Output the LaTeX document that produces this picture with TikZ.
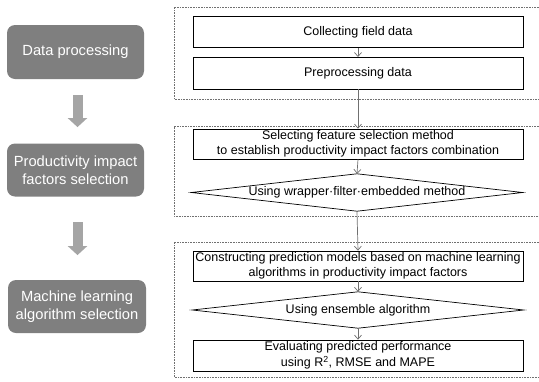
\documentclass[tikz,border=0pt]{standalone}
\usepackage{fontspec}
\setmainfont{Liberation Sans}
\usetikzlibrary{arrows.meta,calc}
\definecolor{boxgray}{HTML}{7F7F7F}
\definecolor{arrgray}{HTML}{A5A5A5}
\definecolor{linegray}{HTML}{707070}
\begin{document}
\begin{tikzpicture}[x=1pt,y=-1pt,
  stage/.style={rectangle, rounded corners=8pt, fill=boxgray, text=white, align=center,
    font=\fontsize{14.7}{18}\selectfont, inner sep=0pt},
  procbox/.style={rectangle, draw=black, line width=0.7pt, align=center,
    minimum width=330pt, inner sep=0pt, font=\fontsize{12.5}{15.5}\selectfont},
  decbox/.style={rectangle, minimum width=331pt, inner sep=0pt,
    font=\fontsize{12.5}{15.5}\selectfont},
  frame/.style={draw=linegray, densely dotted, line width=0.6pt},
  flow/.style={draw=linegray, line width=0.7pt, -{Straight Barb[length=4pt,width=7pt]}},
  bigarrow/.style={draw=arrgray, line width=10pt, -{Triangle[length=9pt,width=19pt]}, shorten >=-0.1pt}
]
\useasboundingbox (0,0) rectangle (539,381);
% dotted frames (open on the right)
\draw[frame] (539,7) -- (174,7) -- (174,99) -- (539,99);
\draw[frame] (539,126.5) -- (174,126.5) -- (174,216) -- (539,216);
\draw[frame] (539,242) -- (174,242) -- (174,377) -- (539,377);
% left stages
\node[stage, minimum width=137pt, minimum height=54pt] (dp) at (75.5,52) {Data processing};
\node[stage, minimum width=137pt, minimum height=53pt] (pif) at (75.5,170) {Productivity impact\\factors selection};
\node[stage, minimum width=138pt, minimum height=53pt] (mls) at (77,306.5) {Machine learning\\algorithm selection};
% big arrows
\coordinate (a1s) at (77.5,95);
\coordinate (a1e) at (77.5,127);
\coordinate (a2s) at (77.5,222);
\coordinate (a2e) at (77.5,255);
\draw[bigarrow] (a1s) -- (a1e);
\draw[bigarrow] (a2s) -- (a2e);
% right flow
\node[procbox, minimum height=31pt] (collect) at (358,32.2) {Collecting field data};
\node[procbox, minimum height=31.7pt] (prep) at (358,73.2) {Preprocessing data};
\node[procbox, minimum height=30pt] (select) at (358,144) {Selecting feature selection method\\to establish productivity impact factors combination};
\node[decbox, minimum height=37pt] (wrap) at (357,192.5) {Using wrapper·filter·embedded method};
\draw[line width=0.7pt] (wrap.west) -- (wrap.north) -- (wrap.east) -- (wrap.south) -- cycle;
\node[procbox, minimum height=30pt] (construct) at (358,266) {Constructing prediction models based on machine learning\\algorithms in productivity impact factors};
\node[decbox, minimum height=36pt] (ens) at (358,310) {Using ensemble algorithm};
\draw[line width=0.7pt] (ens.west) -- (ens.north) -- (ens.east) -- (ens.south) -- cycle;
\node[procbox, minimum height=31pt] (eval) at (358,355.5) {Evaluating predicted performance\\using R\textsuperscript{2}, RMSE and MAPE};
% connectors
\draw[flow] (collect.south) -- (prep.north);
\draw[flow] (prep.south) -- (select.north);
\draw[flow] (select.south) -- (wrap.north);
\draw[flow] (wrap.south) -- (construct.north);
\draw[flow] (construct.south) -- (ens.north);
\draw[flow] (ens.south) -- (eval.north);
\end{tikzpicture}
\end{document}
